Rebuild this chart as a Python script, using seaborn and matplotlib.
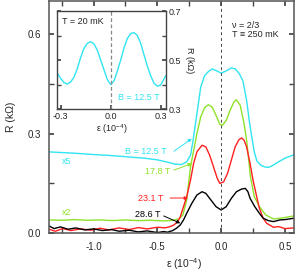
import matplotlib
matplotlib.use("Agg")
import matplotlib.pyplot as plt
import seaborn as sns
import pandas as pd
from matplotlib.ticker import MultipleLocator, FixedLocator

# ---- data (eps in 1e-4, R in kOhm) ----
eps_cyan = [-1.35, -1.25, -1.15, -1.0, -0.9, -0.8, -0.7, -0.6, -0.5, -0.42, -0.36, -0.31,
            -0.27, -0.24, -0.22, -0.19, -0.16, -0.13, -0.1, -0.07, -0.04, 0.0, 0.04,
            0.08, 0.11, 0.14, 0.17, 0.2, 0.22, 0.24, 0.26, 0.28, 0.31, 0.34, 0.37,
            0.4, 0.45, 0.5, 0.57]
r_cyan = [0.245, 0.243, 0.241, 0.237, 0.235, 0.232, 0.229, 0.226, 0.221, 0.214, 0.208,
          0.207, 0.215, 0.235, 0.28, 0.36, 0.44, 0.474, 0.487, 0.495, 0.49, 0.482,
          0.489, 0.498, 0.495, 0.482, 0.46, 0.4, 0.34, 0.29, 0.245, 0.218, 0.205,
          0.2, 0.198, 0.203, 0.215, 0.226, 0.236]

eps_green = [-1.35, -1.25, -1.15, -1.05, -0.95, -0.85, -0.75, -0.65, -0.55, -0.45,
             -0.38, -0.33, -0.3, -0.27, -0.24, -0.21, -0.19, -0.16, -0.13, -0.1,
             -0.07, -0.04, -0.01, 0.01, 0.04, 0.07, 0.1, 0.12, 0.15, 0.18, 0.2,
             0.23, 0.26, 0.3, 0.35, 0.41, 0.48, 0.57]
r_green = [0.040, 0.039, 0.041, 0.039, 0.040, 0.038, 0.040, 0.038, 0.039, 0.037,
           0.039, 0.043, 0.055, 0.1, 0.2, 0.26, 0.3, 0.35, 0.378, 0.387,
           0.38, 0.355, 0.328, 0.325, 0.34, 0.37, 0.395, 0.402, 0.385, 0.33, 0.28,
           0.17, 0.11, 0.08, 0.055, 0.043, 0.046, 0.052]

eps_red = [-1.35, -1.3, -1.24, -1.18, -1.1, -1.02, -0.95, -0.88, -0.8, -0.72, -0.65,
           -0.58, -0.5, -0.44, -0.4, -0.37, -0.34, -0.32, -0.27, -0.24, -0.216,
           -0.19, -0.15, -0.12, -0.09, -0.06, -0.03, -0.01, 0.02, 0.05, 0.08, 0.11,
           0.14, 0.161, 0.18, 0.2, 0.227, 0.25, 0.279, 0.3, 0.33, 0.357, 0.41,
           0.45, 0.5, 0.57]
r_red = [0.012, 0.006, 0.014, 0.008, 0.013, 0.009, 0.015, 0.010, 0.016, 0.011, 0.017,
         0.013, 0.018, 0.016, 0.02, 0.025, 0.035, 0.05, 0.11, 0.16, 0.21,
         0.245, 0.265, 0.26, 0.235, 0.2, 0.165, 0.15, 0.155, 0.18, 0.22, 0.26,
         0.282, 0.287, 0.28, 0.26, 0.21, 0.16, 0.11, 0.075, 0.045, 0.03, 0.018,
         0.02, 0.014, 0.016]

eps_black = [-1.35, -1.31, -1.26, -1.2, -1.14, -1.07, -1.0, -0.93, -0.86, -0.8, -0.72,
             -0.65, -0.58, -0.5, -0.45, -0.42, -0.38, -0.35, -0.32, -0.295, -0.27,
             -0.23, -0.19, -0.15, -0.12, -0.08, -0.04, 0.0, 0.04, 0.08, 0.12, 0.16,
             0.19, 0.21, 0.227, 0.264, 0.3, 0.33, 0.37, 0.41, 0.46, 0.5, 0.57]
r_black = [0.022, 0.014, 0.019, 0.012, 0.016, 0.010, 0.013, 0.008, 0.011, 0.006, 0.009,
           0.004, 0.007, 0.002, 0.005, 0.003, 0.008, 0.015, 0.025, 0.04, 0.06,
           0.09, 0.115, 0.125, 0.12, 0.1, 0.08, 0.07, 0.08, 0.105, 0.125, 0.133,
           0.135, 0.125, 0.105, 0.08, 0.06, 0.045, 0.038, 0.035, 0.04, 0.041, 0.045]

# inset, T = 20 mK, B = 12.5 T
eps_inset = [-0.32, -0.3, -0.28, -0.26, -0.24, -0.22, -0.2, -0.18, -0.16, -0.14, -0.12,
             -0.1, -0.08, -0.06, -0.04, -0.02, 0.0, 0.02, 0.04, 0.06, 0.08, 0.1, 0.12,
             0.14, 0.16, 0.18, 0.2, 0.22, 0.24, 0.26, 0.28, 0.3, 0.33]
r_inset = [0.447, 0.425, 0.408, 0.402, 0.41, 0.43, 0.465, 0.51, 0.548, 0.568, 0.575,
           0.566, 0.54, 0.5, 0.46, 0.42, 0.40, 0.415, 0.455, 0.5, 0.55, 0.588, 0.608,
           0.612, 0.6, 0.568, 0.52, 0.475, 0.435, 0.405, 0.393, 0.398, 0.436]
inset_yticks = [0.3, 0.5, 0.7]
inset_xticks = [-0.3, 0.0, 0.3]

curve_labels = ["B = 12.5 T", "17.8 T", "23.1 T", "28.6 T"]
curve_colors = ["#30e4f2", "#8ee22a", "#ff1f1f", "black"]

sns.set_theme(style="ticks")
plt.rcParams["font.family"] = ["Liberation Sans", "DejaVu Sans"]
plt.rcParams["mathtext.fontset"] = "custom"
plt.rcParams["mathtext.rm"] = "Liberation Sans"

fig = plt.figure(figsize=(2.95, 2.76), dpi=100)
ax = fig.add_axes([0.166, 0.155, 0.83, 0.842])

curves = [(eps_cyan, r_cyan), (eps_green, r_green), (eps_red, r_red), (eps_black, r_black)]
for (xs, ys), col in zip(curves, curve_colors):
    df = pd.DataFrame({"eps": xs, "R": ys})
    sns.lineplot(data=df, x="eps", y="R", ax=ax, color=col, lw=1.0,
                 sort=False, estimator=None)

ax.axvline(0, color="#444444", lw=0.7, ls=(0, (3, 3)))

ax.set_xlim(-1.35, 0.57)
ax.set_ylim(0, 0.7)
ax.xaxis.set_major_locator(MultipleLocator(0.5))
ax.xaxis.set_minor_locator(MultipleLocator(0.25))
ax.yaxis.set_major_locator(MultipleLocator(0.3))
ax.yaxis.set_minor_locator(MultipleLocator(0.15))
ax.tick_params(which="both", direction="in", top=True, right=True, labelsize=7,
               color="#444444", pad=6, length=3.5)
ax.xaxis.set_major_formatter(plt.FuncFormatter(lambda v, p: f"{v:.1f}"))
ax.yaxis.set_major_formatter(plt.FuncFormatter(lambda v, p: f"{v:.1f}"))
for s in ax.spines.values():
    s.set_color("#555555")
    s.set_linewidth(1.1)

ax.set_xlabel("ε (10$^{-4}$)", fontsize=7.5)
ax.xaxis.set_label_coords(0.55, -0.1)
ax.set_ylabel("R (kΩ)", fontsize=7.5, labelpad=8)

# curve labels with arrows
label_pos = [(-0.75, 0.247), (-0.594, 0.185), (-0.648, 0.106), (-0.672, 0.055)]
arrow_from = [(-0.37, 0.247), (-0.37, 0.19), (-0.40, 0.106), (-0.45, 0.052)]
arrow_to = [(-0.23, 0.285), (-0.23, 0.21), (-0.26, 0.106), (-0.32, 0.03)]
for lab, col, pos, a0, a1 in zip(curve_labels, curve_colors, label_pos, arrow_from, arrow_to):
    ax.text(pos[0], pos[1], lab, color=col, fontsize=6.5, va="center", ha="left")
    ax.annotate("", xy=a1, xytext=a0,
                arrowprops=dict(arrowstyle="-|>", color=col, lw=0.7,
                                mutation_scale=5, shrinkA=0, shrinkB=0))

ax.text(-1.21, 0.215, "x5", color=curve_colors[0], fontsize=6.5, ha="center", va="center")
ax.text(-1.21, 0.062, "x2", color=curve_colors[1], fontsize=6.5, ha="center", va="center")
ax.text(0.083, 0.627, "ν = 2/3", fontsize=6.5, ha="left", va="center")
ax.text(0.083, 0.600, "T ≡ 250 mK", fontsize=6.5, ha="left", va="center")

# inset
ins = fig.add_axes([0.193, 0.605, 0.37, 0.355])
ins.set_facecolor("white")
sns.lineplot(x=eps_inset, y=r_inset, ax=ins, color=curve_colors[0], lw=1.0,
             sort=False, estimator=None)
ins.axvline(0, color="#888888", lw=0.9, ls=(0, (3, 2)))
ins.set_xlim(-0.322, 0.332)
ins.set_ylim(0.3, 0.7)
ins.xaxis.set_major_locator(FixedLocator(inset_xticks))
ins.yaxis.set_major_locator(FixedLocator(inset_yticks))
ins.yaxis.set_minor_locator(MultipleLocator(0.1))
ins.xaxis.set_major_formatter(plt.FuncFormatter(lambda v, p: f"{v:.1f}"))
ins.yaxis.set_major_formatter(plt.FuncFormatter(lambda v, p: f"{v:.1f}"))
ins.yaxis.tick_right()
ins.yaxis.set_label_position("right")
ins.tick_params(which="both", direction="in", left=True, right=True, top=False,
                labelsize=6.5, length=3, color="#444444", pad=2)
for s in ins.spines.values():
    s.set_color("#444444")
    s.set_linewidth(1.0)
ins.set_xlabel("ε (10$^{-4}$)", fontsize=6.5, labelpad=1)
ins.set_ylabel("R (kΩ)", fontsize=6.5, rotation=270, labelpad=9)
ins.text(-0.292, 0.659, "T = 20 mK", fontsize=6.5, ha="left", va="center")
ins.text(0.044, 0.345, "B = 12.5 T", fontsize=6.5, ha="left", va="center",
         color=curve_colors[0])

fig.savefig("out.png", dpi=100)
